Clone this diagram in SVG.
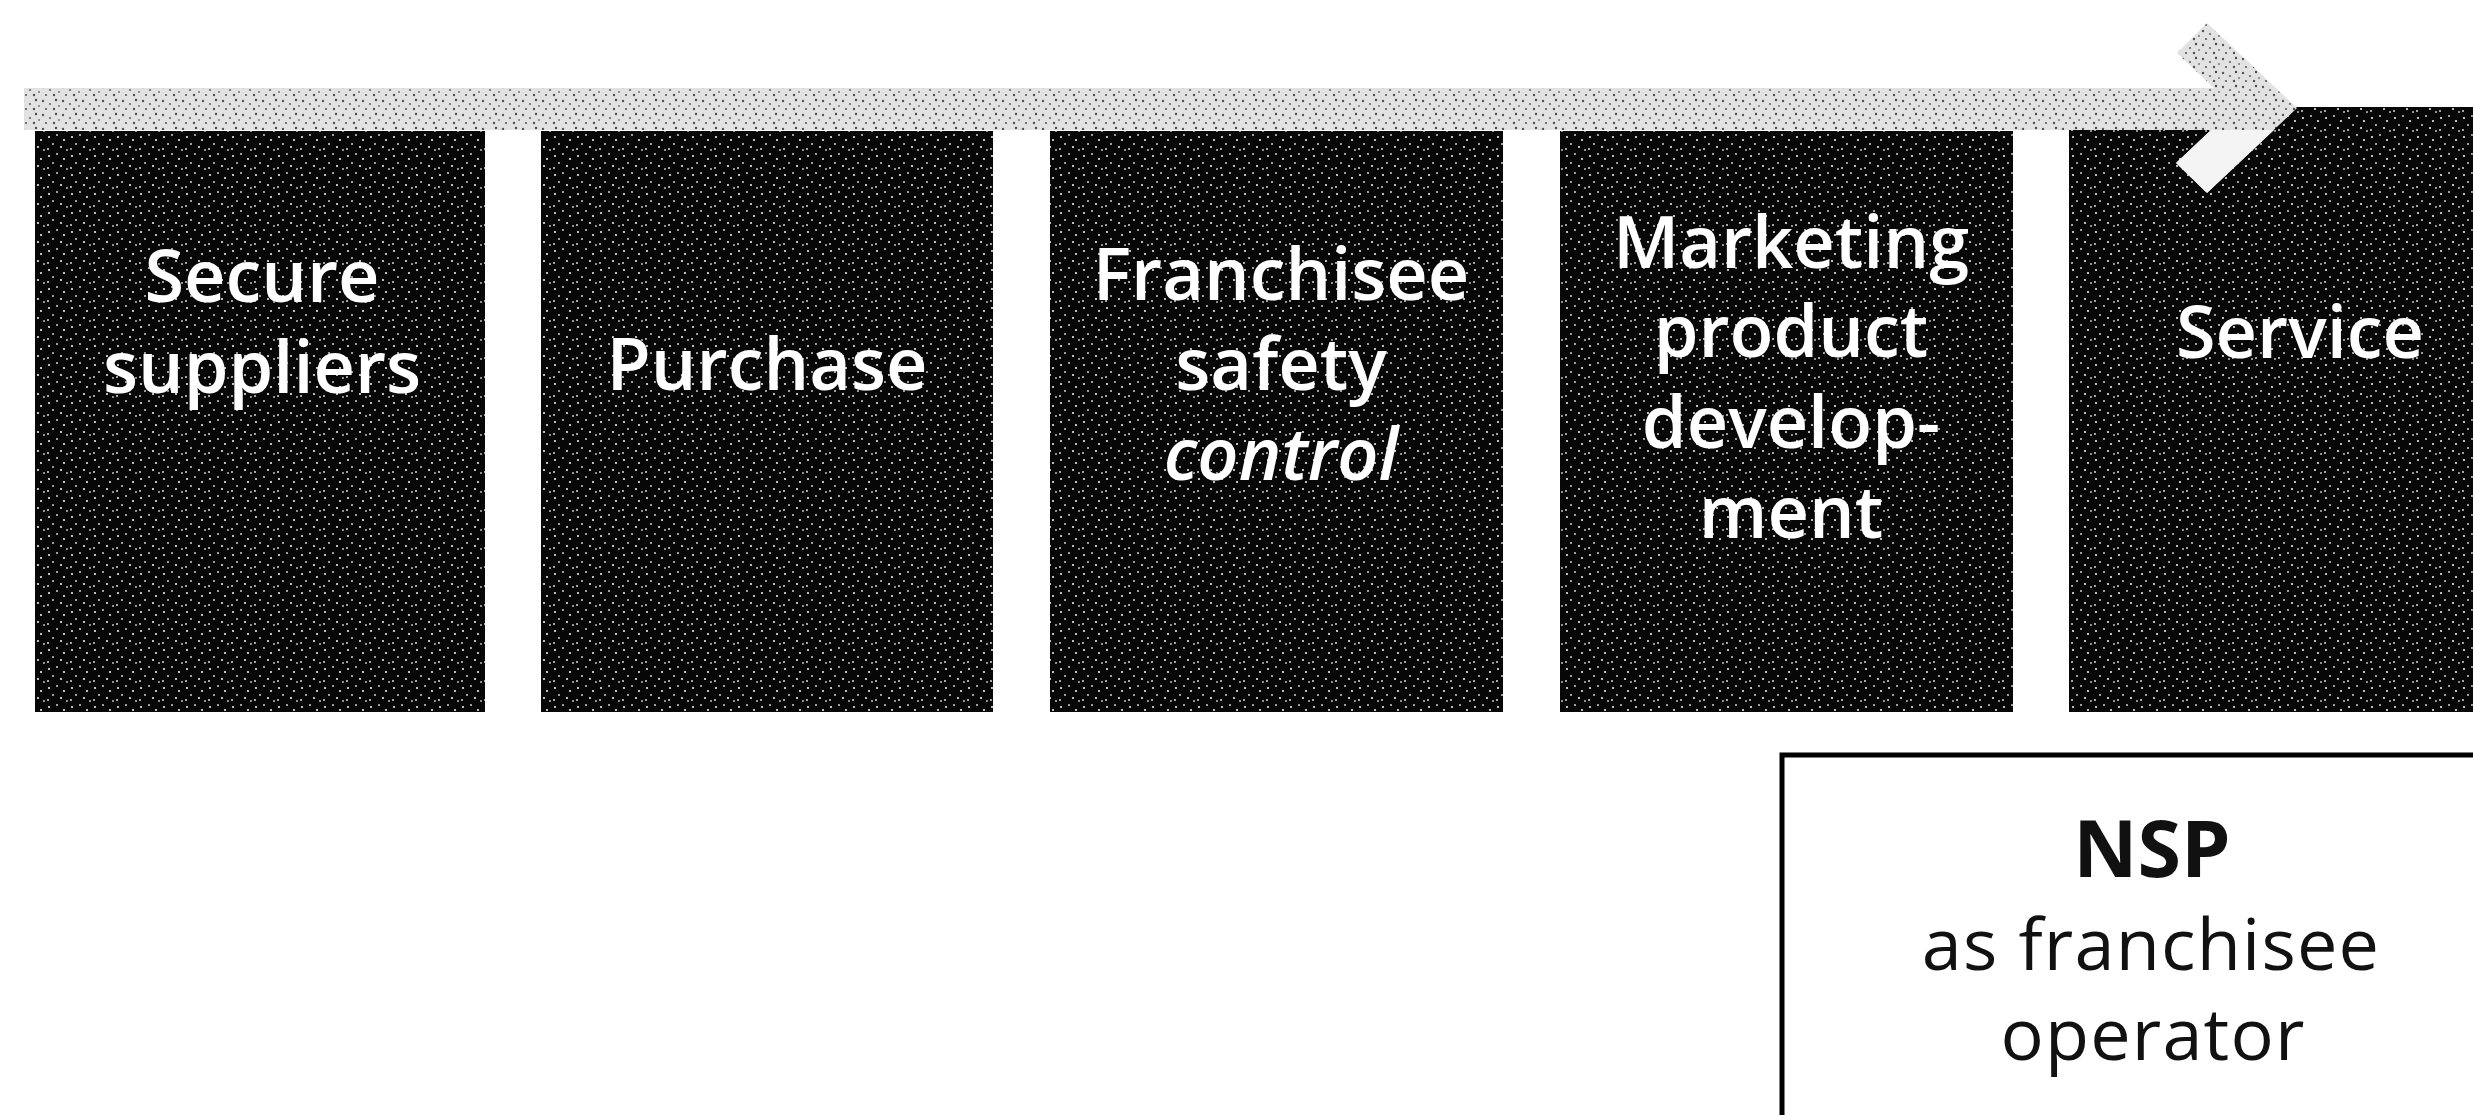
<svg xmlns="http://www.w3.org/2000/svg" width="2473" height="1115" viewBox="0 0 2473 1115">
  <style>
    .box { fill: url(#boxNoise); }
    .lbl { font-family: "Open Sans", "Liberation Sans", sans-serif; font-size: 72px; font-weight: 600; fill: #ffffff; text-anchor: middle; }
    .ital { font-style: italic; }
    .nsp { font-family: "Open Sans", "Liberation Sans", sans-serif; fill: #111111; text-anchor: middle; }
    .nspTitle { font-size: 79px; font-weight: 700; }
    .nspSub { font-size: 72px; font-weight: 400; letter-spacing: 1.2px; }
  </style>
  <defs>
    <pattern id="boxNoise" width="23" height="19" patternUnits="userSpaceOnUse">
      <rect width="23" height="19" fill="#070707"/>
      <circle cx="3" cy="4" r="1.1" fill="#e8e8e8"/>
      <circle cx="11" cy="2" r="1" fill="#d0d0d0"/>
      <circle cx="18" cy="7" r="1.1" fill="#e8e8e8"/>
      <circle cx="7" cy="11" r="1" fill="#cfcfcf"/>
      <circle cx="15" cy="14" r="1.1" fill="#e8e8e8"/>
      <circle cx="21" cy="17" r="1" fill="#bcbcbc"/>
      <circle cx="2" cy="16" r="1" fill="#d8d8d8"/>
    </pattern>
    <pattern id="bandNoise" width="20" height="14" patternUnits="userSpaceOnUse">
      <rect width="20" height="14" fill="#e2e2e2"/>
      <circle cx="3" cy="3" r="1.2" fill="#555555"/>
      <circle cx="10" cy="6" r="1.1" fill="#666666"/>
      <circle cx="16" cy="2" r="1.2" fill="#4a4a4a"/>
      <circle cx="6" cy="11" r="1.1" fill="#5a5a5a"/>
      <circle cx="14" cy="11" r="1.2" fill="#505050"/>
      <circle cx="19" cy="8" r="1" fill="#777777"/>
    </pattern>
  </defs>
  <rect width="2473" height="1115" fill="#ffffff"/>

  <g id="node-secure-suppliers">
    <rect class="box" x="35" y="131" width="450" height="581"/>
    <text class="lbl" x="262" y="302">Secure</text>
    <text class="lbl" x="262" y="393">suppliers</text>
  </g>
  <g id="node-purchase">
    <rect class="box" x="541" y="131" width="452" height="581"/>
    <text class="lbl" x="767" y="390">Purchase</text>
  </g>
  <g id="node-franchisee-safety-control">
    <rect class="box" x="1050" y="131" width="453" height="581"/>
    <text class="lbl" x="1281" y="300">Franchisee</text>
    <text class="lbl" x="1281" y="390">safety</text>
    <text class="lbl ital" x="1281" y="480">control</text>
  </g>
  <g id="node-marketing">
    <rect class="box" x="1560" y="131" width="453" height="581"/>
    <text class="lbl" x="1791" y="268">Marketing</text>
    <text class="lbl" x="1791" y="357">product</text>
    <text class="lbl" x="1791" y="448">develop-</text>
    <text class="lbl" x="1791" y="538">ment</text>
  </g>
  <g id="node-service">
    <rect class="box" x="2069" y="107" width="460" height="605"/>
    <text class="lbl" x="2300" y="358">Service</text>
  </g>

  <g id="connectors">
    <polygon points="24,88 2214,88 2177,53 2207,23 2297,108 2207,193 2176,163 2211,130 24,130" fill="url(#bandNoise)"/>
    <polygon points="2211,130 2274,130 2207,193 2176,163" fill="#f4f4f4"/>
  </g>

  <g id="node-nsp">
    <rect x="1782" y="755" width="760" height="400" fill="#ffffff" stroke="#000000" stroke-width="5"/>
    <text class="nsp nspTitle" x="2152" y="877">NSP</text>
    <text class="nsp nspSub" x="2151" y="970">as franchisee</text>
    <text class="nsp nspSub" x="2153" y="1060">operator</text>
  </g>
</svg>
